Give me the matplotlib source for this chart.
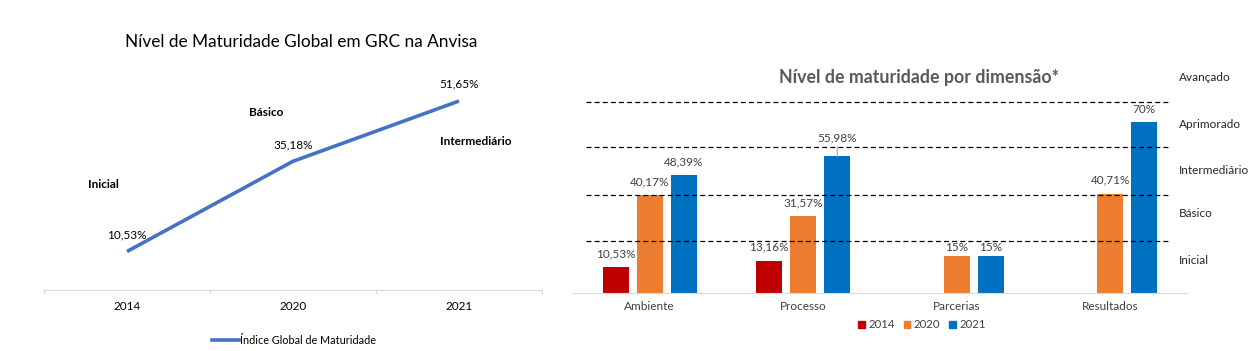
import numpy as np
import matplotlib
matplotlib.use("Agg")
import matplotlib.pyplot as plt
from matplotlib.patches import Patch
from matplotlib.lines import Line2D

plt.rcParams['font.family'] = ['Lato', 'DejaVu Sans']

# left chart data
years = ["2014", "2020", "2021"]
global_idx = [10.53, 35.18, 51.65]
left_levels = ["Inicial", "Básico", "Intermediário"]
left_level_x = [-0.14, 0.84, 2.10]
left_level_y = [28.9, 48.6, 40.7]

# right chart data
dims = ["Ambiente", "Processo", "Parcerias", "Resultados"]
v2014 = [10.53, 13.16, np.nan, np.nan]
v2020 = [40.17, 31.57, 15, 40.71]
v2021 = [48.39, 55.98, 15, 70]
thresholds = [21.2, 40.1, 59.9, 78.4]
right_levels = ["Inicial", "Básico", "Intermediário", "Aprimorado", "Avançado"]
right_level_y = [13, 32.7, 50, 69.3, 88.3]

c14, c20, c21 = "#C00000", "#ED7D31", "#0070C0"
line_col = "#4472C4"
grid_gray = "#D9D9D9"


def pct(v):
    s = f"{v:.2f}".replace(".", ",")
    if s.endswith(",00"):
        s = s[:-3]
    return s + "%"


fig = plt.figure(figsize=(12.58, 3.51), dpi=100)

# ---- left: line chart
ax1 = fig.add_axes([44 / 1258, 61 / 351, 498 / 1258, 219.5 / 351])
x = np.arange(len(years))
ax1.plot(x, global_idx, color=line_col, lw=2.6, solid_capstyle='butt',
         label="Índice Global de Maturidade")
for xi, v in zip(x, global_idx):
    ax1.annotate(pct(v), (xi, v), xytext=(0, 12), textcoords='offset points',
                 ha='center', va='center', fontsize=8.5, color='#000000')
for name, lx, ly in zip(left_levels, left_level_x, left_level_y):
    ax1.text(lx, ly, name, ha='center', va='center', fontsize=8.5,
             fontweight='bold', color='#000000')
ax1.set_xlim(-0.5, 2.5)
ax1.set_ylim(0, 60)
ax1.set_xticks(x)
ax1.set_xticklabels(years, fontsize=8.5, color='#000000')
ax1.set_xticks([-0.5, 0.5, 1.5, 2.5], minor=True)
ax1.tick_params(axis='x', which='major', length=0, pad=8)
ax1.tick_params(axis='x', which='minor', length=3, color=grid_gray, width=0.8)
ax1.set_yticks([])
for s in ['top', 'right', 'left']:
    ax1.spines[s].set_visible(False)
ax1.spines['bottom'].set_color(grid_gray)
ax1.spines['bottom'].set_linewidth(0.8)
fig.text(301 / 1258, 1 - 42 / 351, "Nível de Maturidade Global em GRC na Anvisa",
         ha='center', va='center', fontsize=12.4, color='#000000')
fig.legend(handles=[Line2D([0], [0], color=line_col, lw=2.6)],
           labels=["Índice Global de Maturidade"], loc='center',
           bbox_to_anchor=(294 / 1258, 1 - 340 / 351), frameon=False,
           fontsize=7.8, handlelength=2.5, handletextpad=0.1)

# ---- right: bar chart
ax2 = fig.add_axes([573 / 1258, 58.5 / 351, 614 / 1258, 218.7 / 351])
xc = np.arange(len(dims))
step, w = 0.2215, 0.169
series = [(v2014, c14, "2014", -step), (v2020, c20, "2020", 0), (v2021, c21, "2021", step)]
for vals, col, lab, off in series:
    ax2.bar(xc + off, vals, width=w, color=col, label=lab, zorder=2)
    for xi, v in zip(xc + off, vals):
        if np.isnan(v):
            continue
        if v == 55.98:
            ax2.annotate(pct(v), (xi, v), xytext=(0, 13), textcoords='offset points',
                         ha='center', va='center', fontsize=8.5, color='#404040',
                         arrowprops=dict(arrowstyle='-', color='#A6A6A6', lw=0.8,
                                         shrinkA=0, shrinkB=0))
        else:
            dy = 6.5 if v < 20 and lab != "2014" else 9.5
            ax2.annotate(pct(v), (xi, v), xytext=(0, dy), textcoords='offset points',
                         ha='center', va='center', fontsize=8.5, color='#404040')
for t in thresholds:
    ax2.axhline(t, xmin=0.021, xmax=0.972, color='#000000', lw=0.9,
                ls=(0, (4, 2.5)), zorder=3)
for name, ly in zip(right_levels, right_level_y):
    ax2.text(0.987, ly, name, transform=ax2.get_yaxis_transform(), ha='left',
             va='center', fontsize=8.5, color='#262626', clip_on=False)
ax2.set_xlim(-0.5, 3.5)
ax2.set_ylim(0, 90)
ax2.set_xticks(xc)
ax2.set_xticklabels(dims, fontsize=8.5, color='#404040')
ax2.tick_params(axis='x', length=0, pad=6)
ax2.set_yticks([])
for s in ['top', 'right', 'left']:
    ax2.spines[s].set_visible(False)
ax2.spines['bottom'].set_color(grid_gray)
ax2.spines['bottom'].set_linewidth(0.8)
fig.text(919 / 1258, 1 - 77 / 351, "Nível de maturidade por dimensão*", ha='center',
         va='center', fontsize=12.8, fontweight='bold', color='#595959')
fig.legend(handles=[Patch(color=c) for c in (c14, c20, c21)],
           labels=["2014", "2020", "2021"], loc='center', ncol=3,
           bbox_to_anchor=(922 / 1258, 1 - 325 / 351), frameon=False,
           fontsize=8.2, handlelength=0.6, handleheight=0.6, handletextpad=0.3,
           columnspacing=0.8, labelcolor='#404040')

fig.savefig("out.png", dpi=100)
